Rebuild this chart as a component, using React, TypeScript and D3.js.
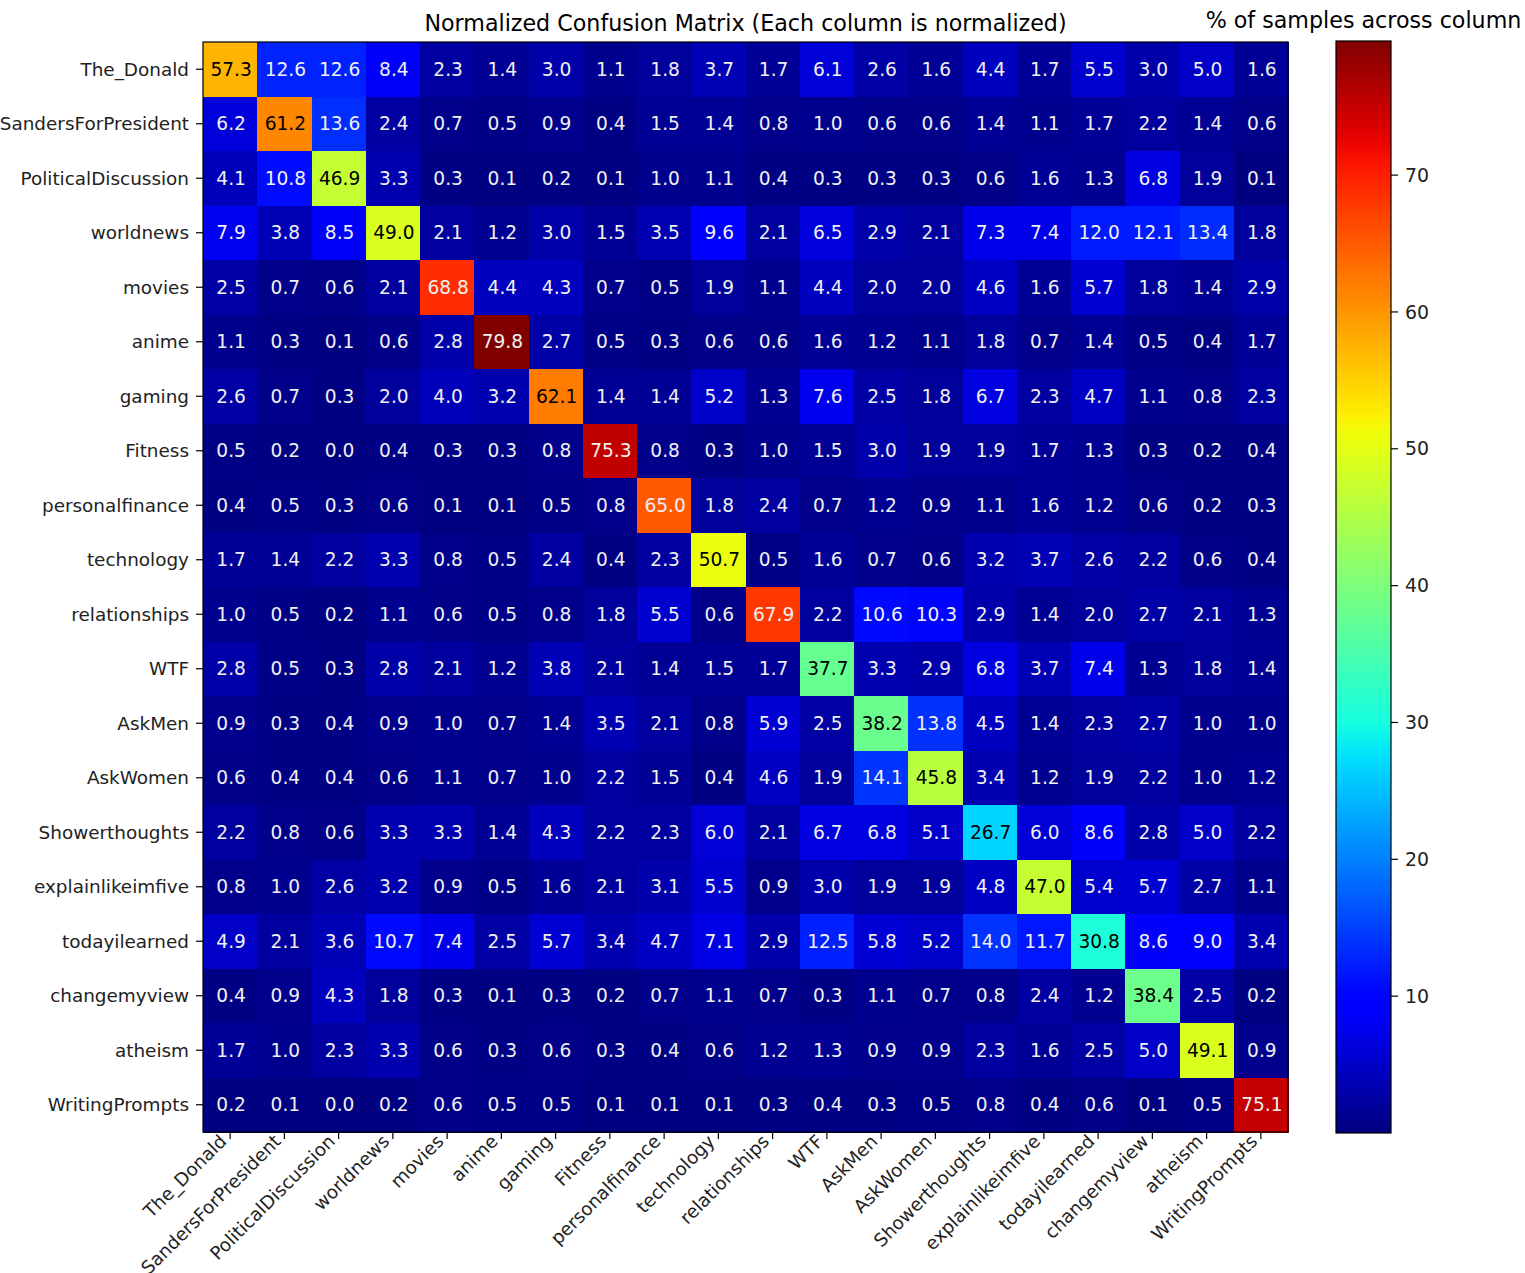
import React from 'react'
import * as d3 from 'd3'

const categories = [
  'The_Donald', 'SandersForPresident', 'PoliticalDiscussion', 'worldnews', 'movies',
  'anime', 'gaming', 'Fitness', 'personalfinance', 'technology', 'relationships',
  'WTF', 'AskMen', 'AskWomen', 'Showerthoughts', 'explainlikeimfive',
  'todayilearned', 'changemyview', 'atheism', 'WritingPrompts',
]

// one row per true label, one value per predicted label (% of the column)
const theDonald = [57.3, 12.6, 12.6, 8.4, 2.3, 1.4, 3.0, 1.1, 1.8, 3.7, 1.7, 6.1, 2.6, 1.6, 4.4, 1.7, 5.5, 3.0, 5.0, 1.6]
const sanders = [6.2, 61.2, 13.6, 2.4, 0.7, 0.5, 0.9, 0.4, 1.5, 1.4, 0.8, 1.0, 0.6, 0.6, 1.4, 1.1, 1.7, 2.2, 1.4, 0.6]
const political = [4.1, 10.8, 46.9, 3.3, 0.3, 0.1, 0.2, 0.1, 1.0, 1.1, 0.4, 0.3, 0.3, 0.3, 0.6, 1.6, 1.3, 6.8, 1.9, 0.1]
const worldnews = [7.9, 3.8, 8.5, 49.0, 2.1, 1.2, 3.0, 1.5, 3.5, 9.6, 2.1, 6.5, 2.9, 2.1, 7.3, 7.4, 12.0, 12.1, 13.4, 1.8]
const movies = [2.5, 0.7, 0.6, 2.1, 68.8, 4.4, 4.3, 0.7, 0.5, 1.9, 1.1, 4.4, 2.0, 2.0, 4.6, 1.6, 5.7, 1.8, 1.4, 2.9]
const anime = [1.1, 0.3, 0.1, 0.6, 2.8, 79.8, 2.7, 0.5, 0.3, 0.6, 0.6, 1.6, 1.2, 1.1, 1.8, 0.7, 1.4, 0.5, 0.4, 1.7]
const gaming = [2.6, 0.7, 0.3, 2.0, 4.0, 3.2, 62.1, 1.4, 1.4, 5.2, 1.3, 7.6, 2.5, 1.8, 6.7, 2.3, 4.7, 1.1, 0.8, 2.3]
const fitness = [0.5, 0.2, 0.0, 0.4, 0.3, 0.3, 0.8, 75.3, 0.8, 0.3, 1.0, 1.5, 3.0, 1.9, 1.9, 1.7, 1.3, 0.3, 0.2, 0.4]
const personalfinance = [0.4, 0.5, 0.3, 0.6, 0.1, 0.1, 0.5, 0.8, 65.0, 1.8, 2.4, 0.7, 1.2, 0.9, 1.1, 1.6, 1.2, 0.6, 0.2, 0.3]
const technology = [1.7, 1.4, 2.2, 3.3, 0.8, 0.5, 2.4, 0.4, 2.3, 50.7, 0.5, 1.6, 0.7, 0.6, 3.2, 3.7, 2.6, 2.2, 0.6, 0.4]
const relationships = [1.0, 0.5, 0.2, 1.1, 0.6, 0.5, 0.8, 1.8, 5.5, 0.6, 67.9, 2.2, 10.6, 10.3, 2.9, 1.4, 2.0, 2.7, 2.1, 1.3]
const wtf = [2.8, 0.5, 0.3, 2.8, 2.1, 1.2, 3.8, 2.1, 1.4, 1.5, 1.7, 37.7, 3.3, 2.9, 6.8, 3.7, 7.4, 1.3, 1.8, 1.4]
const askMen = [0.9, 0.3, 0.4, 0.9, 1.0, 0.7, 1.4, 3.5, 2.1, 0.8, 5.9, 2.5, 38.2, 13.8, 4.5, 1.4, 2.3, 2.7, 1.0, 1.0]
const askWomen = [0.6, 0.4, 0.4, 0.6, 1.1, 0.7, 1.0, 2.2, 1.5, 0.4, 4.6, 1.9, 14.1, 45.8, 3.4, 1.2, 1.9, 2.2, 1.0, 1.2]
const showerthoughts = [2.2, 0.8, 0.6, 3.3, 3.3, 1.4, 4.3, 2.2, 2.3, 6.0, 2.1, 6.7, 6.8, 5.1, 26.7, 6.0, 8.6, 2.8, 5.0, 2.2]
const eli5 = [0.8, 1.0, 2.6, 3.2, 0.9, 0.5, 1.6, 2.1, 3.1, 5.5, 0.9, 3.0, 1.9, 1.9, 4.8, 47.0, 5.4, 5.7, 2.7, 1.1]
const til = [4.9, 2.1, 3.6, 10.7, 7.4, 2.5, 5.7, 3.4, 4.7, 7.1, 2.9, 12.5, 5.8, 5.2, 14.0, 11.7, 30.8, 8.6, 9.0, 3.4]
const changemyview = [0.4, 0.9, 4.3, 1.8, 0.3, 0.1, 0.3, 0.2, 0.7, 1.1, 0.7, 0.3, 1.1, 0.7, 0.8, 2.4, 1.2, 38.4, 2.5, 0.2]
const atheism = [1.7, 1.0, 2.3, 3.3, 0.6, 0.3, 0.6, 0.3, 0.4, 0.6, 1.2, 1.3, 0.9, 0.9, 2.3, 1.6, 2.5, 5.0, 49.1, 0.9]
const writingPrompts = [0.2, 0.1, 0.0, 0.2, 0.6, 0.5, 0.5, 0.1, 0.1, 0.1, 0.3, 0.4, 0.3, 0.5, 0.8, 0.4, 0.6, 0.1, 0.5, 75.1]

const rows = [
  theDonald, sanders, political, worldnews, movies, anime, gaming, fitness,
  personalfinance, technology, relationships, wtf, askMen, askWomen,
  showerthoughts, eli5, til, changemyview, atheism, writingPrompts,
]

const colorbarTicks = [10, 20, 30, 40, 50, 60, 70]

// matplotlib's jet colormap
const jetR = d3.scaleLinear<number>().domain([0, 0.35, 0.66, 0.89, 1]).range([0, 0, 1, 1, 0.5]).clamp(true)
const jetG = d3.scaleLinear<number>().domain([0, 0.125, 0.375, 0.64, 0.91, 1]).range([0, 0, 1, 1, 0, 0]).clamp(true)
const jetB = d3.scaleLinear<number>().domain([0, 0.11, 0.34, 0.65, 1]).range([0.5, 1, 1, 0, 0]).clamp(true)
const jet = (t: number) =>
  d3.rgb(Math.round(jetR(t) * 255), Math.round(jetG(t) * 255), Math.round(jetB(t) * 255)).toString()

const FONT = 'DejaVu Sans, Verdana, sans-serif'

export default function App() {
  const width = 1525, height = 1273
  const left = 203, right = 1288, top = 42, bottom = 1132
  const cbLeft = 1336, cbRight = 1391, cbTop = 41, cbBottom = 1133

  const vmin = d3.min(rows, r => d3.min(r)) as number
  const vmax = d3.max(rows, r => d3.max(r)) as number

  const x = d3.scaleBand().domain(categories).range([left, right])
  const y = d3.scaleBand().domain(categories).range([top, bottom])
  const norm = d3.scaleLinear().domain([vmin, vmax]).range([0, 1])
  const cb = d3.scaleLinear().domain([vmin, vmax]).range([cbBottom, cbTop])

  const stops = d3.range(0, 1.0001, 1 / 64)

  const cells = rows.flatMap((row, i) => row.map((v, j) => ({ v, i, j })))

  return (
    <svg width={width} height={height} style={{ position: 'absolute', left: 0, top: 0, background: '#fff' }}
      fontFamily={FONT}>
      <defs>
        <linearGradient id="jet" x1="0" y1="1" x2="0" y2="0">
          {stops.map(t => <stop key={t} offset={t} stopColor={jet(t)} />)}
        </linearGradient>
      </defs>

      <text x={(left + right) / 2} y={31} textAnchor="middle" fontSize={22.2} fill="#000">
        Normalized Confusion Matrix (Each column is normalized)
      </text>

      <g shapeRendering="crispEdges">
        {cells.map(c => (
          <rect key={`r${c.i}-${c.j}`} x={x(categories[c.j])} y={y(categories[c.i])}
            width={x.bandwidth() + 0.5} height={y.bandwidth() + 0.5} fill={jet(norm(c.v))} />
        ))}
      </g>
      <g>
        {cells.map(c => (
          <text key={`t${c.i}-${c.j}`} x={(x(categories[c.j]) as number) + x.bandwidth() / 2 + 1}
            y={(y(categories[c.i]) as number) + y.bandwidth() / 2} dy="0.35em"
            textAnchor="middle" fontSize={18.6}
            fill={c.v > 20 && c.v < 64 ? '#000' : '#f0f0f0'}>
            {c.v.toFixed(1)}
          </text>
        ))}
      </g>
      <rect x={left} y={top} width={right - left} height={bottom - top} fill="none" stroke="#000" strokeWidth={1.2} />

      {/* y axis */}
      {categories.map(c => {
        const cy = (y(c) as number) + y.bandwidth() / 2
        return (
          <g key={`y${c}`}>
            <line x1={left - 7} x2={left} y1={cy} y2={cy} stroke="#000" strokeWidth={1.2} />
            <text x={left - 14} y={cy} dy="0.35em" textAnchor="end" fontSize={18.4} fill="#222">{c}</text>
          </g>
        )
      })}

      {/* x axis, rotated labels */}
      {categories.map(c => {
        const cx = (x(c) as number) + x.bandwidth() / 2
        const ax = cx - 7, ay = bottom + 6
        return (
          <g key={`x${c}`}>
            <line x1={cx} x2={cx} y1={bottom} y2={bottom + 7} stroke="#000" strokeWidth={1.2} />
            <text x={ax} y={ay} dy="0.35em" textAnchor="end" fontSize={18.3} fill="#222"
              transform={`rotate(-45, ${ax}, ${ay})`}>{c}</text>
          </g>
        )
      })}

      {/* colorbar */}
      <rect x={cbLeft} y={cbTop} width={cbRight - cbLeft} height={cbBottom - cbTop} fill="url(#jet)" stroke="#000" strokeWidth={1.2} />
      {colorbarTicks.map(t => (
        <g key={`cb${t}`}>
          <line x1={cbRight} x2={cbRight + 7} y1={cb(t)} y2={cb(t)} stroke="#000" strokeWidth={1.2} />
          <text x={cbRight + 14} y={cb(t)} dy="0.35em" fontSize={18.9} fill="#222">{t}</text>
        </g>
      ))}
      <text x={(cbLeft + cbRight) / 2} y={28} textAnchor="middle" fontSize={22.2} fill="#000">
        % of samples across column
      </text>
    </svg>
  )
}
